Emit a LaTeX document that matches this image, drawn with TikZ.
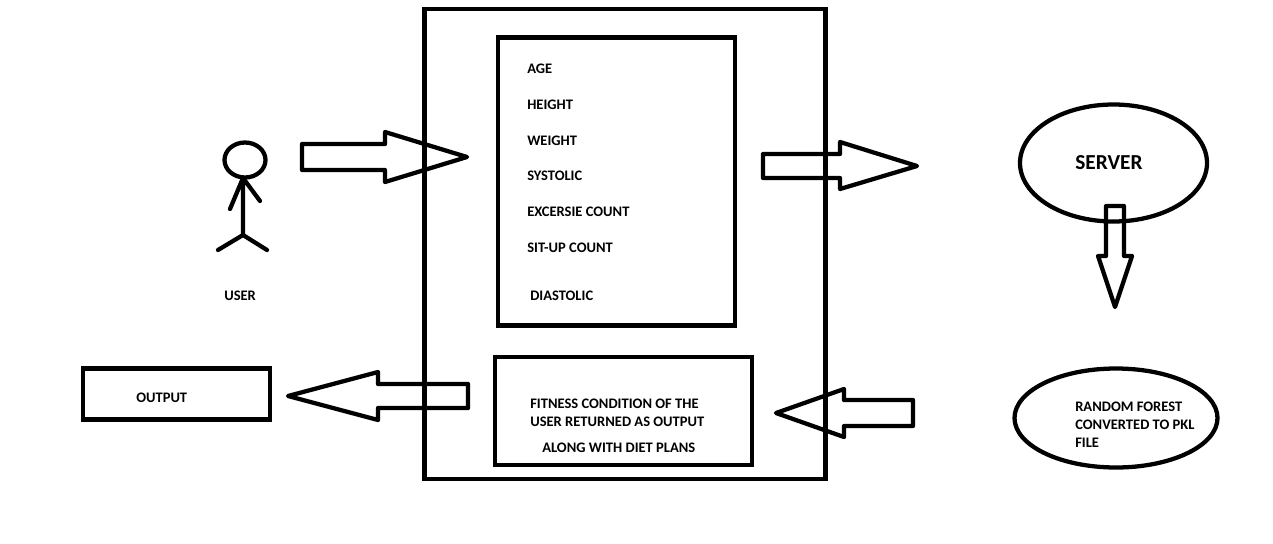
\documentclass[tikz,border=0pt]{standalone}
\usepackage{fontspec}
\setmainfont{Carlito}
\usetikzlibrary{shapes.geometric}
\tikzset{
 x=0.75pt,y=-0.75pt,
 ln/.style={draw=black,line width=3.2pt,fill=none,line join=miter},
 stick/.style={draw=black,line width=3.2pt,line cap=round,line join=round},
 lab/.style={font=\bfseries\fontsize{10.9pt}{13pt}\selectfont,inner sep=0pt,anchor=west,text=black},
 blockarrow/.style={draw=black,line width=3.2pt,fill=none,line join=round},
}
\begin{document}
\begin{tikzpicture}
\useasboundingbox[fill=white] (0,0) rectangle (1273,543);
\node[ln,minimum width=401pt*0.75,minimum height=470pt*0.75,inner sep=0pt] (outer) at (625,244) {};
\node[ln,minimum width=237pt*0.75,minimum height=288pt*0.75,inner sep=0pt] (inputs) at (616.5,181.5) {};
\node[ln,minimum width=257pt*0.75,minimum height=108pt*0.75,inner sep=0pt] (result) at (623.5,411) {};
\node[ln,minimum width=187pt*0.75,minimum height=51pt*0.75,inner sep=0pt] (output) at (176.5,394) {};
\node[ln,ellipse,minimum width=187pt*0.75,minimum height=117pt*0.75,inner sep=0pt] (server) at (1113.5,163) {};
\node[ln,ellipse,minimum width=203pt*0.75,minimum height=99pt*0.75,inner sep=0pt] (rf) at (1116,418) {};
\node[ln,ellipse,minimum width=41pt*0.75,minimum height=35pt*0.75,inner sep=0pt] (head) at (245,160) {};
\coordinate (neck) at (243,178);
\coordinate (hip) at (243,235);
\coordinate (lh) at (230,209);
\coordinate (rh) at (260,201);
\coordinate (ll) at (218,250);
\coordinate (rl) at (267,250);
\draw[stick] (neck) -- (hip) (neck) -- (lh) (neck) -- (rh) (hip) -- (ll) (hip) -- (rl);
\draw[blockarrow] (302,144) -- (385,144) -- (385,132) -- (467,157) -- (385,182) -- (385,170) -- (302,170) -- cycle;
\draw[blockarrow] (763,154) -- (840,154) -- (840,142) -- (917,166) -- (840,189) -- (840,178) -- (763,178) -- cycle;
\draw[blockarrow] (1106,206) -- (1124,206) -- (1124,256) -- (1132,256) -- (1115,307) -- (1098,256) -- (1106,256) -- cycle;
\draw[blockarrow] (468,384) -- (378,384) -- (378,372) -- (288,396) -- (378,420) -- (378,408) -- (468,408) -- cycle;
\draw[blockarrow] (913,400) -- (844,400) -- (844,389) -- (776,413) -- (844,437) -- (844,426) -- (913,426) -- cycle;
\node[lab] (t1) at (527,68.5) {AGE};
\node[lab] (t2) at (527,104.5) {HEIGHT};
\node[lab] (t3) at (527,140.5) {WEIGHT};
\node[lab] (t4) at (527,175.5) {SYSTOLIC};
\node[lab] (t5) at (527,211.5) {EXCERSIE COUNT};
\node[lab] (t6) at (527,247.5) {SIT-UP COUNT};
\node[lab] (t7) at (530,295.5) {DIASTOLIC};
\node[lab] (t8) at (224,295.5) {USER};
\node[lab] (t9) at (136,397.5) {OUTPUT};
\node[lab] (t10) at (530,403.5) {FITNESS CONDITION OF THE};
\node[lab] (t11) at (530,421.5) {USER RETURNED AS OUTPUT};
\node[lab] (t12) at (542,447.5) {ALONG WITH DIET PLANS};
\node[lab,font=\bfseries\fontsize{16pt}{18pt}\selectfont] (t13) at (1075,163) {SERVER};
\node[lab] (t14) at (1075,406.5) {RANDOM FOREST};
\node[lab] (t15) at (1075,424.5) {CONVERTED TO PKL};
\node[lab] (t16) at (1075,442.5) {FILE};
\end{tikzpicture}
\end{document}
